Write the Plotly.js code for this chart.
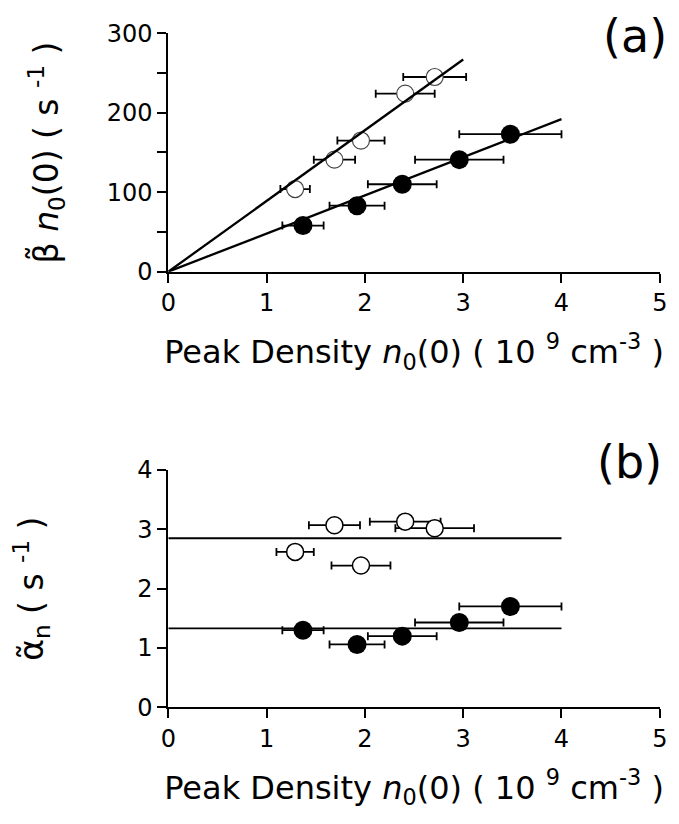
<!DOCTYPE html>
<html>
<head>
<meta charset="utf-8">
<script src="https://cdn.plot.ly/plotly-3.0.1.min.js"></script>
<style>html,body{margin:0;padding:0;background:#fff;}#chart{width:679px;height:824px;}</style>
</head>
<body>
<div id="chart"></div>
<script>
// Peak density n0(0) (10^9 cm^-3)
const xFilled = [1.37, 1.92, 2.38, 2.96, 3.48];
const xOpen = [1.29, 1.69, 1.96, 2.41, 2.71];
// horizontal error bars
const errFilled = [0.21, 0.28, 0.35, 0.45, 0.52];
const errOpenA = [0.15, 0.21, 0.24, 0.30, 0.32];
const errOpenB = [0.19, 0.26, 0.30, 0.36, 0.40];
// panel (a): beta~ n0(0) (s^-1)
const betaFilled = [58, 83, 110, 141, 173];
const betaOpen = [104, 141, 165, 224, 245];
// panel (a) fitted lines
const fitFilledAx = [0, 4];
const fitFilledAy = [0, 192];
const fitOpenAx = [0, 3.0];
const fitOpenAy = [0, 267];
// panel (b): alpha~_n (s^-1)
const alphaFilled = [1.30, 1.06, 1.20, 1.43, 1.70];
const alphaOpen = [2.62, 3.07, 2.39, 3.13, 3.02];
// panel (b) mean lines
const meanBx = [0, 4];
const meanFilledB = [1.33, 1.33];
const meanOpenB = [2.85, 2.85];

const black = '#000';
const errStyle = (arr) => ({type: 'data', array: arr, visible: true, color: black, thickness: 1.8, width: 4});

const traces = [
  // panel (a)
  {x: xOpen, y: betaOpen, mode: 'markers', error_x: errStyle(errOpenA),
   marker: {symbol: 'circle', size: 17, color: '#fff', line: {color: '#444', width: 1.2}}, xaxis: 'x', yaxis: 'y'},
  {x: fitOpenAx, y: fitOpenAy, mode: 'lines', line: {color: black, width: 2.3}, xaxis: 'x', yaxis: 'y', hoverinfo: 'skip'},
  {x: fitFilledAx, y: fitFilledAy, mode: 'lines', line: {color: black, width: 2.3}, xaxis: 'x', yaxis: 'y'},
  {x: xFilled, y: betaFilled, mode: 'markers', error_x: errStyle(errFilled),
   marker: {symbol: 'circle', size: 19, color: black}, xaxis: 'x', yaxis: 'y'},
  // panel (b)
  {x: meanBx, y: meanOpenB, mode: 'lines', line: {color: black, width: 1.8}, xaxis: 'x2', yaxis: 'y2'},
  {x: meanBx, y: meanFilledB, mode: 'lines', line: {color: black, width: 1.8}, xaxis: 'x2', yaxis: 'y2'},
  {x: xOpen, y: alphaOpen, mode: 'markers', error_x: errStyle(errOpenB),
   marker: {symbol: 'circle', size: 17, color: '#fff', line: {color: black, width: 1.5}}, xaxis: 'x2', yaxis: 'y2'},
  {x: xFilled, y: alphaFilled, mode: 'markers', error_x: errStyle(errFilled),
   marker: {symbol: 'circle', size: 19, color: black}, xaxis: 'x2', yaxis: 'y2'}
];

const tickFont = {family: 'DejaVu Sans, sans-serif', size: 24, color: black};
const xTitleText = 'Peak Density <i>n</i><sub>0</sub>(0) ( 10 <sup>9</sup> cm<sup>-3</sup> )';
const xTitleFont = {family: 'DejaVu Sans, sans-serif', size: 32, color: black};
const yTitleFont = {family: 'DejaVu Sans, sans-serif', size: 33, color: black};

const xBase = {
  range: [0, 5], domain: [0.2479, 0.9717], showgrid: false, zeroline: false,
  showline: true, linecolor: black, linewidth: 2, ticks: 'outside', ticklen: 9, tickwidth: 2,
  tickcolor: black, dtick: 1, tick0: 0, tickfont: tickFont, fixedrange: true
};
const yBase = {
  showgrid: false, zeroline: false, showline: true, linecolor: black, linewidth: 2,
  ticks: 'outside', ticklen: 9, tickwidth: 2, tickcolor: black, tickfont: tickFont, fixedrange: true
};

const layout = {
  width: 679, height: 824,
  margin: {l: 0, r: 0, t: 0, b: 0},
  paper_bgcolor: '#fff', plot_bgcolor: 'rgba(0,0,0,0)',
  showlegend: false,
  xaxis: Object.assign({}, xBase, {anchor: 'y', title: {text: xTitleText, font: xTitleFont, standoff: 24}}),
  yaxis: Object.assign({}, yBase, {anchor: 'x', domain: [0.6703, 0.9596], range: [0, 300], dtick: 100, tick0: 0,
    minor: {dtick: 50, ticks: 'outside', ticklen: 9, tickwidth: 2, tickcolor: black, showgrid: false},
    title: {text: 'β̃ <i>n</i><sub>0</sub>(0) ( s <sup>-1</sup> )', font: yTitleFont, standoff: 38}}),
  xaxis2: Object.assign({}, xBase, {anchor: 'y2', title: {text: xTitleText, font: xTitleFont, standoff: 24}}),
  yaxis2: Object.assign({}, yBase, {anchor: 'x2', domain: [0.1416, 0.4296], range: [0, 4], dtick: 1, tick0: 0,
    title: {text: 'α̃<sub>n</sub> ( s <sup>-1</sup> )', font: yTitleFont, standoff: 84}}),
  annotations: [
    {text: '(a)', xref: 'paper', yref: 'paper', x: 635 / 679, y: 1 - 36 / 824, xanchor: 'center', yanchor: 'middle',
     showarrow: false, font: {family: 'DejaVu Sans, sans-serif', size: 46, color: black}},
    {text: '(b)', xref: 'paper', yref: 'paper', x: 629 / 679, y: 1 - 462 / 824, xanchor: 'center', yanchor: 'middle',
     showarrow: false, font: {family: 'DejaVu Sans, sans-serif', size: 46, color: black}}
  ]
};

Plotly.newPlot('chart', traces, layout, {displayModeBar: false, staticPlot: true});
</script>
</body>
</html>
